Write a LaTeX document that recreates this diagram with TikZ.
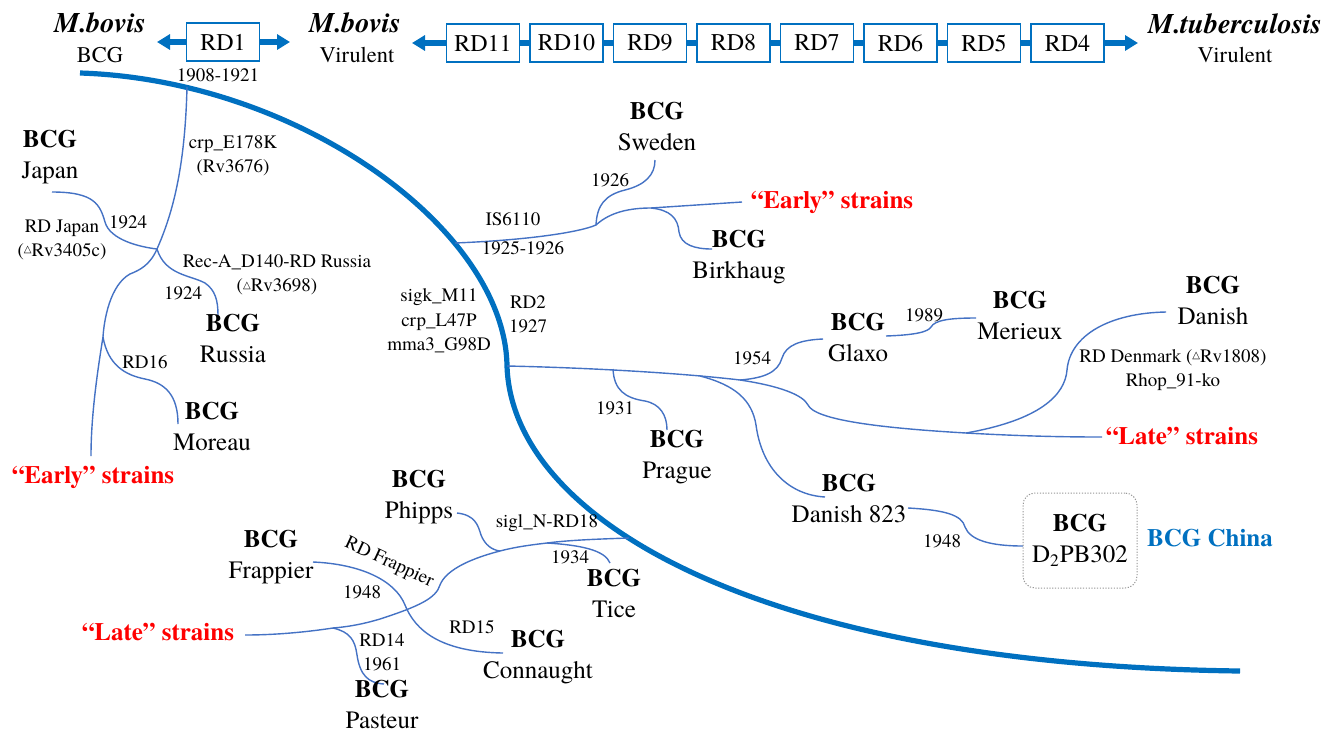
\documentclass[tikz,border=0pt]{standalone}
\usepackage{fontspec}
\IfFontExistsTF{texgyretermes-regular.otf}
 {\setmainfont{texgyretermes}[Extension=.otf,UprightFont=*-regular,BoldFont=*-bold,ItalicFont=*-italic,BoldItalicFont=*-bolditalic]}
 {\setmainfont{Liberation Serif}}
\newfontfamily\dejavu{DejaVu Sans}
\usetikzlibrary{arrows.meta}
\definecolor{arcblue}{RGB}{0,112,192}
\definecolor{brblue}{RGB}{68,114,196}
\definecolor{strred}{RGB}{255,0,0}
\definecolor{boxgray}{RGB}{150,150,150}
\newcommand{\tri}{\raisebox{0.45ex}{\dejavu\fontsize{5}{5}\selectfont △}}
\begin{document}
\begin{tikzpicture}[x=0.5pt,y=-0.5pt,
 big/.style={font=\fontsize{12.5}{15.5}\selectfont, align=center, inner sep=0pt},
 small/.style={font=\fontsize{9.5}{12.2}\selectfont, align=center, inner sep=0pt},
 strain/.style={font=\fontsize{12.5}{15}\selectfont\bfseries, text=strred, inner sep=0pt},
 branch/.style={draw=brblue, line width=0.7pt},
 mainarc/.style={draw=arcblue, line width=2.6pt},
 rdbox/.style={draw=arcblue, fill=white, line width=0.9pt, minimum width=36.5pt, minimum height=19pt, inner sep=0pt, font=\fontsize{12}{12}\selectfont},
 fat/.style={draw=arcblue, line width=3.2pt},
 fatarrow/.style={fat, -{Triangle[length=6.5pt,width=7.5pt]}},
 title/.style={font=\fontsize{14.2}{14.2}\selectfont\bfseries\itshape, inner sep=0pt},
 sub/.style={font=\fontsize{11.2}{11.2}\selectfont, inner sep=0pt}]
\useasboundingbox (0,0) rectangle (1336,734);

% ---------- top row ----------
\node[title] (mb1) at (100,23) {M.bovis};
\node[sub] (mb1s) at (100,55) {BCG};
\node[title] (mb2) at (355,23) {M.bovis};
\node[sub] (mb2s) at (357,55) {Virulent};
\node[title] (mtb) at (1235,24) {M.tuberculosis};
\node[sub] (mtbs) at (1235,55) {Virulent};

\coordinate (a1l) at (157,42);
\coordinate (a1r) at (290,42);
\coordinate (a2l) at (412,43);
\coordinate (a2r) at (1138,43);
\node[rdbox] (rd1) at (223,42) {RD1};
\draw[fatarrow] (rd1.west) -- (a1l);
\draw[fatarrow] (rd1.east) -- (a1r);
\node[small] (y1908) at (218,75) {1908-1921};

\node[rdbox] (rd11) at (483,43) {RD11};
\node[rdbox] (rd10) at (566.5,43) {RD10};
\node[rdbox] (rd9) at (650,43) {RD9};
\node[rdbox] (rd8) at (733.5,43) {RD8};
\node[rdbox] (rd7) at (817,43) {RD7};
\node[rdbox] (rd6) at (900.5,43) {RD6};
\node[rdbox] (rd5) at (984,43) {RD5};
\node[rdbox] (rd4) at (1067.5,43) {RD4};
\draw[fatarrow] (rd11.west) -- (a2l);
\draw[fatarrow] (rd4.east) -- (a2r);
\foreach \a/\b in {rd11/rd10,rd10/rd9,rd9/rd8,rd8/rd7,rd7/rd6,rd6/rd5,rd5/rd4}
  \draw[fat] (\a.east) -- (\b.west);

% ---------- main arc ----------
\draw[mainarc] (80,73) .. controls (300,80) and (505,230) .. (507,366) .. controls (512,520) and (760,665) .. (1240,671);

% ---------- left (early) tree ----------
\coordinate (r1) at (187,87);
\coordinate (jJ) at (157,249);
\coordinate (jpE) at (52,192);
\coordinate (ruE) at (218,315);
\coordinate (j16) at (103,337);
\coordinate (moE) at (178,424);
\coordinate (earlyE) at (91,456);
\draw[branch] (r1) .. controls (185,170) and (172,215) .. (jJ);
\draw[branch] (jJ) .. controls (140,247) and (110,240) .. (105,222) .. controls (100,205) and (95,192) .. (jpE);
\draw[branch] (jJ) .. controls (165,275) and (190,275) .. (205,283) .. controls (215,290) and (218,300) .. (ruE);
\draw[branch] (jJ) .. controls (150,265) and (140,270) .. (130,274) .. controls (110,285) and (104,320) .. (j16);
\draw[branch] (j16) .. controls (96,380) and (91,420) .. (earlyE);
\draw[branch] (j16) .. controls (108,365) and (125,375) .. (145,379) .. controls (165,383) and (178,395) .. (moE);

\node[big] (japan) at (50,157) {\textbf{BCG}\\Japan};
\node[big] (russia) at (233,338) {\textbf{BCG}\\Russia};
\node[big] (moreau) at (212,426) {\textbf{BCG}\\Moreau};
\node[strain] (early1) at (93,477) {“Early” strains};
\node[small] (crp1) at (233,155.5) {crp\_E178K\\(Rv3676)};
\node[small] (rdjp) at (62,240) {RD Japan\\(\tri Rv3405c)};
\node[small] (y1924a) at (128,222) {1924};
\node[small] (reca) at (277,275) {Rec-A\_D140-RD Russia\\(\tri Rv3698)};
\node[small] (y1924b) at (183,293) {1924};
\node[small] (rd16) at (145,362) {RD16};

% ---------- Sweden branch ----------
\coordinate (s0) at (455,243);
\coordinate (js) at (596,225);
\coordinate (swE) at (655,160);
\coordinate (jb) at (651,208);
\coordinate (early2E) at (742,202);
\coordinate (biE) at (712,249);
\draw[branch] (s0) .. controls (530,240) and (580,232) .. (js);
\draw[branch] (js) .. controls (597,205) and (605,195) .. (625,190) .. controls (645,185) and (655,175) .. (swE);
\draw[branch] (js) .. controls (610,212) and (630,208) .. (jb) -- (early2E);
\draw[branch] (jb) .. controls (670,210) and (678,218) .. (679,232) .. controls (681,245) and (695,249) .. (biE);

\node[big] (sweden) at (657,127) {\textbf{BCG}\\Sweden};
\node[big] (birk) at (739,257) {\textbf{BCG}\\Birkhaug};
\node[strain] (early2) at (832,202) {“Early” strains};
\node[small] (y1926) at (610,180) {1926};
\node[small] (is) at (513,219) {IS6110};
\node[small] (y1925) at (523,248) {1925-1926};
\node[small] (sigk) at (439,321) {sigk\_M11\\crp\_L47P\\mma3\_G98D};
\node[small] (rd2) at (528,314) {RD2\\1927};

% ---------- late (right) tree ----------
\coordinate (l0) at (507,366);
\coordinate (jp) at (613,369);
\coordinate (jd) at (700,376);
\coordinate (jg) at (740,380);
\coordinate (jdk) at (966,433);
\coordinate (lateE) at (1102,437);
\coordinate (prE) at (667,430);
\coordinate (d823E) at (825,497);
\coordinate (glE) at (823,339);
\coordinate (glR) at (886,336);
\coordinate (meE) at (976,318);
\coordinate (dkE) at (1166,312);
\coordinate (d823R) at (908,508);
\coordinate (chE) at (1023,546);
\draw[branch] (l0) .. controls (600,368) and (690,374) .. (jg) .. controls (780,386) and (803,395) .. (808,405) .. controls (815,420) and (880,428) .. (jdk) .. controls (1020,436) and (1060,437) .. (lateE);
\draw[branch] (jp) .. controls (614,390) and (625,398) .. (645,401) .. controls (660,404) and (667,415) .. (prE);
\draw[branch] (jd) .. controls (735,385) and (752,400) .. (756,425) .. controls (762,470) and (790,495) .. (d823E);
\draw[branch] (jg) .. controls (765,378) and (778,372) .. (782,358) .. controls (786,345) and (800,340) .. (glE);
\draw[branch] (glR) .. controls (915,335) and (928,332) .. (931,327) .. controls (935,320) and (950,318) .. (meE);
\draw[branch] (jdk) .. controls (1040,420) and (1065,395) .. (1067,370) .. controls (1070,335) and (1110,313) .. (dkE);
\draw[branch] (d823R) .. controls (945,510) and (962,515) .. (965,527) .. controls (970,540) and (990,546) .. (chE);

\node[big] (glaxo) at (858,338) {\textbf{BCG}\\Glaxo};
\node[big] (merieux) at (1020,315) {\textbf{BCG}\\Merieux};
\node[big] (danish) at (1213,300) {\textbf{BCG}\\Danish};
\node[big] (prague) at (677,457) {\textbf{BCG}\\Prague};
\node[big] (d823) at (849,499) {\textbf{BCG}\\Danish 823};
\node[strain] (late1) at (1182,436) {“Late” strains};
\node[small] (y1931) at (615,408) {1931};
\node[small] (y1954) at (752,358) {1954};
\node[small] (y1989) at (924,315) {1989};
\node[small] (rddk) at (1173,370) {RD Denmark (\tri Rv1808)\\Rhop\_91-ko};
\node[small] (y1948a) at (942,541) {1948};
\node[big, draw=boxgray, dash pattern=on 0.6pt off 0.8pt, line width=0.5pt, rounded corners=6pt, minimum width=57pt, minimum height=47.5pt] (china) at (1080,540.5) {\textbf{BCG}\\D\textsubscript{2}PB302};
\node[font=\fontsize{12.5}{12.5}\selectfont\bfseries, text=arcblue, inner sep=0pt] (chinalbl) at (1210,538) {BCG China};

% ---------- late (left) tree ----------
\coordinate (b0) at (629,538);
\coordinate (jt) at (547,543);
\coordinate (jph) at (500,551);
\coordinate (jq) at (333,628);
\coordinate (late2E) at (245,635);
\coordinate (phE) at (457,513);
\coordinate (tiE) at (610,563);
\coordinate (frE) at (313,562);
\coordinate (coE) at (503,653);
\coordinate (paE) at (384,684);
\draw[branch] (b0) .. controls (600,539) and (570,540) .. (jt) .. controls (530,545) and (515,547) .. (jph) .. controls (465,560) and (445,572) .. (440,585) .. controls (436,598) and (420,606) .. (380,619) .. controls (360,625) and (345,627) .. (jq) .. controls (300,633) and (270,635) .. (late2E);
\draw[branch] (phE) .. controls (475,515) and (478,525) .. (481,535) .. controls (485,545) and (492,550) .. (jph);
\draw[branch] (jt) .. controls (580,545) and (605,550) .. (tiE);
\draw[branch] (frE) .. controls (360,564) and (395,580) .. (405,605) .. controls (415,630) and (440,652) .. (coE);
\draw[branch] (jq) .. controls (350,632) and (355,640) .. (357,655) .. controls (360,675) and (368,683) .. (paE);

\node[big] (phipps) at (419,497) {\textbf{BCG}\\Phipps};
\node[big] (frappier) at (271,557) {\textbf{BCG}\\Frappier};
\node[big] (tice) at (614,593) {\textbf{BCG}\\Tice};
\node[big] (conn) at (538,657) {\textbf{BCG}\\Connaught};
\node[big] (pasteur) at (382,704) {\textbf{BCG}\\Pasteur};
\node[strain] (late2) at (158,632) {“Late” strains};
\node[small] (sigl) at (547,523) {sigl\_N-RD18};
\node[small] (y1934) at (570,557) {1934};
\node[small, rotate=-25] (rdfr) at (389,563) {RD Frappier};
\node[small] (y1948b) at (362,592) {1948};
\node[small] (rd15) at (472,627) {RD15};
\node[small] (rd14) at (382,652) {RD14\\1961};
\end{tikzpicture}
\end{document}
